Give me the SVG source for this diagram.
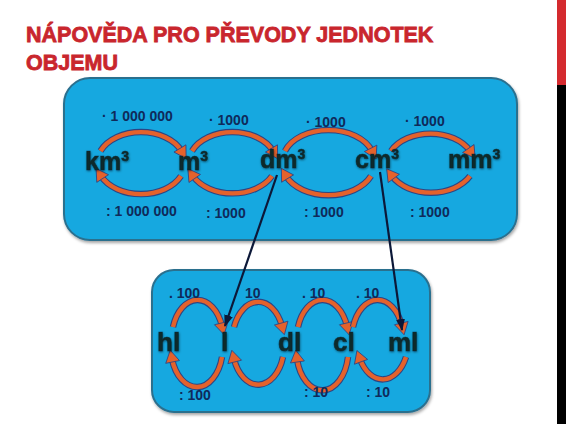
<svg xmlns="http://www.w3.org/2000/svg" width="566" height="424" viewBox="0 0 566 424">
<defs>
<style>
.title{font-family:"Liberation Sans",Arial,sans-serif;font-weight:bold;font-size:21.5px;fill:#c9262d;stroke:#c9262d;stroke-width:0.8}
.box{fill:#18a8e0;stroke:#2b6f8e;stroke-width:2}
.unit{font-family:"Liberation Sans",Arial,sans-serif;font-weight:bold;fill:#0e2a2c;stroke:#0a1f22;stroke-width:0.7;stroke-opacity:0.6;filter:url(#ts)}
.u1{font-size:25px}
.u2{font-size:26px}
.lab{font-family:"Liberation Sans",Arial,sans-serif;font-weight:bold;fill:#0f2a5a}
.l1{font-size:14px}
.l2{font-size:14px}
.arcO{fill:none;stroke:#2d4584;stroke-width:6.5}
.arcI{fill:none;stroke:#e4622c;stroke-width:4.4;marker-end:url(#oh)}
.big{fill:none;stroke:#0c1838;stroke-width:2.2;marker-end:url(#bh)}
</style>
<marker id="oh" viewBox="-1 -8 14 16" refX="3" refY="0" markerWidth="14" markerHeight="16" markerUnits="userSpaceOnUse" orient="auto">
<path d="M0,-7 L12,0 L0,7 z" fill="#e4622c" stroke="#2d4584" stroke-width="0.8"/>
</marker>
<marker id="bh" viewBox="0 -5 12 10" refX="11" refY="0" markerWidth="12" markerHeight="10" markerUnits="userSpaceOnUse" orient="auto">
<path d="M0,-4.5 L12,0 L0,4.5 z" fill="#0c1838"/>
</marker>
<filter id="sh" x="-5%" y="-5%" width="110%" height="115%">
<feDropShadow dx="1" dy="2" stdDeviation="1.5" flood-color="#000" flood-opacity="0.35"/>
</filter>
<filter id="ts" x="-10%" y="-20%" width="120%" height="140%">
<feDropShadow dx="0.5" dy="1" stdDeviation="1" flood-color="#000" flood-opacity="0.5"/>
</filter>
</defs>
<rect x="0" y="0" width="566" height="424" fill="#ffffff"/>
<rect x="557" y="0" width="9" height="85" fill="#d42a2f"/>
<rect x="557" y="85" width="9" height="339" fill="#000000"/>
<g id="title">
<text class="title" x="26" y="42">NÁPOVĚDA PRO PŘEVODY JEDNOTEK</text>
<text class="title" x="26" y="70">OBJEMU</text>
</g>
<g id="box-top"><rect class="box" x="64" y="78" width="453" height="162" rx="26" filter="url(#sh)"/></g>
<g id="box-bottom"><rect class="box" x="152" y="270" width="278" height="142" rx="22" filter="url(#sh)"/></g>
<g id="connectors">
<path class="arcO" d="M100.5,151 A44 31 0 0 1 181.5,151"/>
<path class="arcI" d="M100.5,151 A44 31 0 0 1 181.5,151"/>
<path class="arcO" d="M181,176 A44 31 0 0 1 101,176"/>
<path class="arcI" d="M181,176 A44 31 0 0 1 101,176"/>
<path class="arcO" d="M192,151 A44 31 0 0 1 273,151"/>
<path class="arcI" d="M192,151 A44 31 0 0 1 273,151"/>
<path class="arcO" d="M272,176 A44 31 0 0 1 193,176"/>
<path class="arcI" d="M272,176 A44 31 0 0 1 193,176"/>
<path class="arcO" d="M285,151 A46 31 0 0 1 372,151"/>
<path class="arcI" d="M285,151 A46 31 0 0 1 372,151"/>
<path class="arcO" d="M371,176 A46 31 0 0 1 286,176"/>
<path class="arcI" d="M371,176 A46 31 0 0 1 286,176"/>
<path class="arcO" d="M391,151 A44 31 0 0 1 470,151"/>
<path class="arcI" d="M391,151 A44 31 0 0 1 470,151"/>
<path class="arcO" d="M470,176 A44 31 0 0 1 392,176"/>
<path class="arcI" d="M470,176 A44 31 0 0 1 392,176"/>
<path class="arcO" d="M173,327 A26 40 0 0 1 222,326"/>
<path class="arcI" d="M173,327 A26 40 0 0 1 222,326"/>
<path class="arcO" d="M222,357 A26 40 0 0 1 172,359"/>
<path class="arcI" d="M222,357 A26 40 0 0 1 172,359"/>
<path class="arcO" d="M234,327 A26 40 0 0 1 282,326"/>
<path class="arcI" d="M234,327 A26 40 0 0 1 282,326"/>
<path class="arcO" d="M283,357 A26 40 0 0 1 234,359"/>
<path class="arcI" d="M283,357 A26 40 0 0 1 234,359"/>
<path class="arcO" d="M298,327 A26 40 0 0 1 347,326"/>
<path class="arcI" d="M298,327 A26 40 0 0 1 347,326"/>
<path class="arcO" d="M348,357 A26 40 0 0 1 297,359"/>
<path class="arcI" d="M348,357 A26 40 0 0 1 297,359"/>
<path class="arcO" d="M353,327 A26 40 0 0 1 402,326"/>
<path class="arcI" d="M353,327 A26 40 0 0 1 402,326"/>
<path class="arcO" d="M406,357 A26 40 0 0 1 360,359"/>
<path class="arcI" d="M406,357 A26 40 0 0 1 360,359"/>
<path class="big" d="M277,175 L225,326"/>
<path class="big" d="M380,172 L402,330"/>
</g>
<g id="labels">
<text class="lab l1" x="102" y="121">· 1 000 000</text>
<text class="lab l1" x="209" y="125">· 1000</text>
<text class="lab l1" x="306" y="127">· 1000</text>
<text class="lab l1" x="405" y="126">· 1000</text>
<text class="lab l1" x="106" y="216">: 1 000 000</text>
<text class="lab l1" x="206" y="218">: 1000</text>
<text class="lab l1" x="304" y="217">: 1000</text>
<text class="lab l1" x="410" y="217">: 1000</text>
<text class="lab l2" x="169" y="298">. 100</text>
<text class="lab l2" x="245" y="298">10</text>
<text class="lab l2" x="302" y="298">. 10</text>
<text class="lab l2" x="356" y="298">. 10</text>
<text class="lab l2" x="179" y="400">: 100</text>
<text class="lab l2" x="304" y="397">: 10</text>
<text class="lab l2" x="366" y="397">: 10</text>
</g>
<g id="node-km3"><text class="unit u1" x="85" y="170">km<tspan font-size="14" dy="-9">3</tspan></text></g>
<g id="node-m3"><text class="unit u1" x="178" y="170">m<tspan font-size="14" dy="-9">3</tspan></text></g>
<g id="node-dm3"><text class="unit u1" x="260" y="168">dm<tspan font-size="14" dy="-9">3</tspan></text></g>
<g id="node-cm3"><text class="unit u1" x="355" y="168">cm<tspan font-size="14" dy="-9">3</tspan></text></g>
<g id="node-mm3"><text class="unit u1" x="448" y="168">mm<tspan font-size="14" dy="-9">3</tspan></text></g>
<g id="node-hl"><text class="unit u2" x="157" y="351">hl</text></g>
<g id="node-l"><text class="unit u2" x="221" y="351">l</text></g>
<g id="node-dl"><text class="unit u2" x="278" y="351">dl</text></g>
<g id="node-cl"><text class="unit u2" x="333" y="351">cl</text></g>
<g id="node-ml"><text class="unit u2" x="388" y="351">ml</text></g>
</svg>
